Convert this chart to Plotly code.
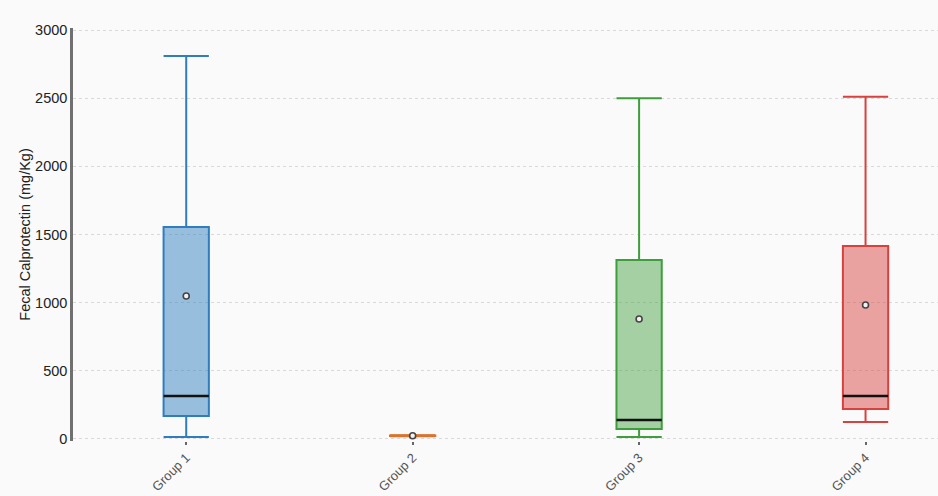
import plotly.graph_objects as go

# Summary statistics per group (mg/Kg)
groups = ["Group 1", "Group 2", "Group 3", "Group 4"]
lower_whisker = [15, 20, 15, 125]
q1 = [169, 22, 73, 220]
median = [315, 24, 139, 315]
q3 = [1555, 26, 1313, 1416]
upper_whisker = [2810, 28, 2500, 2510]
mean = [1049, 24, 880, 983]

line_colors = ["#2f7dbf", "#d9732e", "#3d9e3b", "#d8423e"]
fill_colors = ["rgba(47,125,191,0.48)", "rgba(217,115,46,0.48)",
               "rgba(61,158,59,0.45)", "rgba(216,66,62,0.48)"]
# the Group 2 box collapses to a single bar, so its median keeps the box colour
median_colors = ["#111111", "#d9732e", "#111111", "#111111"]

box_half = 0.1

fig = go.Figure()
for i, g in enumerate(groups):
    fig.add_trace(go.Box(
        x=[i], q1=[q1[i]], median=[median[i]], q3=[q3[i]],
        lowerfence=[lower_whisker[i]], upperfence=[upper_whisker[i]],
        name=g, width=2 * box_half, whiskerwidth=1,
        line=dict(color=line_colors[i], width=2),
        fillcolor=fill_colors[i], boxpoints=False, hoverinfo="skip",
    ))
    # median bar
    fig.add_trace(go.Scatter(
        x=[i - box_half, i + box_half], y=[median[i], median[i]],
        mode="lines", line=dict(color=median_colors[i], width=2.5),
        hoverinfo="skip", showlegend=False,
    ))

# mean markers
fig.add_trace(go.Scatter(
    x=list(range(len(groups))), y=mean, mode="markers",
    marker=dict(symbol="circle", size=6, color="#f2f2f2",
                line=dict(width=1.6, color="#444444")),
    showlegend=False, hoverinfo="skip",
))

fig.update_layout(
    width=938, height=496,
    margin=dict(l=73, r=0, t=28, b=55),
    paper_bgcolor="#fafafa", plot_bgcolor="#fafafa",
    showlegend=False,
    font=dict(family="Arial, Liberation Sans, sans-serif", color="#222222"),
    xaxis=dict(
        range=[-0.5, 3.32], tickmode="array",
        tickvals=list(range(len(groups))), ticktext=groups,
        tickangle=-45, tickfont=dict(size=13, color="#555555"),
        ticks="outside", ticklen=3, tickwidth=2, tickcolor="#666666",
        showgrid=False, zeroline=False, showline=False, automargin=False,
    ),
    yaxis=dict(
        range=[-15, 3015], tickvals=[0, 500, 1000, 1500, 2000, 2500, 3000],
        tickfont=dict(size=14.5, color="#222222"),
        showline=True, linecolor="#707070", linewidth=2.5,
        showgrid=True, gridcolor="#d9d9d9", griddash="dot", gridwidth=1,
        zeroline=False, ticks="", automargin=False,
        title=dict(text="Fecal Calprotectin (mg/Kg)", font=dict(size=14.5, color="#222222"), standoff=2),
    ),
)

fig.write_html("out.html")
